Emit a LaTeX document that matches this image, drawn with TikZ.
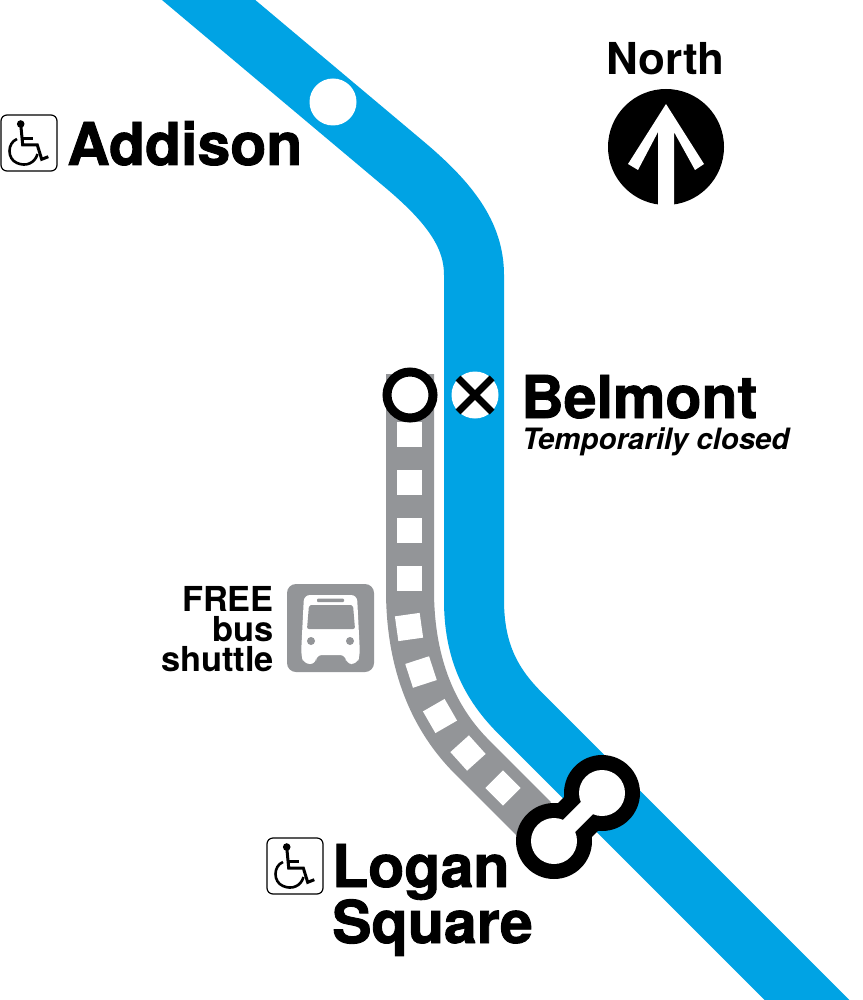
\documentclass[tikz,border=0pt]{standalone}
\usepackage{fontspec}
\setmainfont{TeX Gyre Heros}
\newfontfamily\heavyfont[BoldFeatures={FakeBold=1.5}]{TeX Gyre Heros}
\usepackage{xcolor}
\usetikzlibrary{positioning}
\definecolor{linebl}{HTML}{00A3E4}
\definecolor{shuttlegr}{HTML}{939598}
\tikzset{
  station/.style={anchor=base west,inner sep=0pt,font=\heavyfont\bfseries\fontsize{59}{59}\selectfont},
  shuttletext/.style={anchor=base east,inner sep=0pt,font=\bfseries\fontsize{34.4}{34.4}\selectfont},
  tie/.style={rectangle,fill=white,minimum size=25pt,inner sep=0pt},
  stopw/.style={circle,fill=white,minimum size=47pt,inner sep=0pt},
  access/.pic={
    \draw[black,line width=1.2pt,rounded corners=6pt,fill=white] (-28,-28) rectangle (28,28);
    \fill[black] (-8.3,-19) circle (3.8);
    \draw[black,line width=3pt] (-8.3,-19) -- (-6.3,2) -- (8.3,2) -- (12.7,16.3) -- (19.3,13.7);
    \draw[black,line width=2.6pt] (-7.3,-4.7) -- (3.7,-4.7);
    \draw[black,line width=2.6pt] (-12,-4) .. controls (-22,0) and (-22,16) .. (-12,20) .. controls (-3,24) and (6,20) .. (8.5,11);
  }
}
\begin{document}
\begin{tikzpicture}[x=1pt,y=-1pt]
  \clip (0,0) rectangle (862,1000);
  \fill[white] (0,0) rectangle (862,1000);
  % blue line
  \draw[linebl,line width=60pt] (161,-40) -- (405,165) .. controls (450,203) and (474,235) .. (474,275)
    -- (474,600) .. controls (474,650) and (490,683) .. (520,713) -- (857,1050);
  % shuttle track
  \draw[shuttlegr,line width=48pt] (410,374) -- (410,590) .. controls (410,665) and (434,719) .. (472,757) -- (534,819);
  \foreach \tx/\ty/\ta [count=\i] in {409/434/0,409/482/0,409/530/0,409/578/0,409/627/8,421/672/18,440/716/30,468/753/42,503/788/45}
    \node[tie,rotate=\ta] (tie\i) at (\tx,\ty) {};

  \node[stopw] (addison) at (333,102) {};
  \node[circle,draw=black,line width=9pt,fill=white,minimum size=46pt,inner sep=0pt] (busstop) at (410,395) {};
  \node[stopw] (belmont) at (475,395) {};
  \draw[black,line width=7pt] (belmont.center) ++(-17,-17) -- ++(34,34);
  \draw[black,line width=7pt] (belmont.center) ++(17,-17) -- ++(-34,34);

  % transfer at the bottom
  \coordinate (logana) at (602,793);
  \coordinate (loganb) at (554,841);
  \fill[black] (logana) circle (38);
  \fill[black] (loganb) circle (38);
  \draw[black,line width=48pt] (logana) -- (loganb);
  \fill[white] (logana) circle (23);
  \fill[white] (loganb) circle (23);
  \draw[white,line width=17pt] (logana) -- (loganb);

  \node[station] (addisontext) at (67,165) {Addison};
  \node[station] (belmonttext) at (521,418) {Belmont};
  \node[anchor=base west,inner sep=0pt,font=\bfseries\itshape\fontsize{29.4}{29.4}\selectfont] (closedtext) at (522,449) {Temporarily closed};
  \node[station] (logantext) at (332,887) {Logan};
  \node[station] (squaretext) at (332,943) {Square};
  \node[shuttletext] (freetext) at (274,611) {FREE};
  \node[shuttletext] (bustext) at (274,641) {bus};
  \node[shuttletext] (shuttletext) at (274,671) {shuttle};

  % north arrow
  \node[anchor=base,inner sep=0pt,font=\bfseries\fontsize{44}{44}\selectfont] (northtext) at (665.5,75) {North};
  \fill[black] (666,147) circle (58);
  \fill[white] (666,104) -- (704,164) -- (695,170) -- (674,132) -- (674,206) -- (658,206) -- (658,132) -- (638,170) -- (628,164) -- cycle;

  % bus sign
  \fill[shuttlegr,rounded corners=9pt] (287,584) rectangle (374,672);
  \fill[white,rounded corners=6pt] (304,595) -- (357,595) -- (360,655) -- (357,664) -- (346,664) -- (346,655) -- (316,655) -- (316,664) -- (304,664) -- (301,655) -- cycle;
  \fill[shuttlegr,rounded corners=2pt] (309,605) -- (353,605) -- (355,629) -- (307,629) -- cycle;
  \fill[shuttlegr,rounded corners=1pt] (317,598.5) rectangle (344,602);
  \fill[shuttlegr] (311,641) circle (4);
  \fill[shuttlegr] (350,641) circle (4);

  \pic at (29,143) {access};
  \pic at (295,866) {access};
\end{tikzpicture}
\end{document}
